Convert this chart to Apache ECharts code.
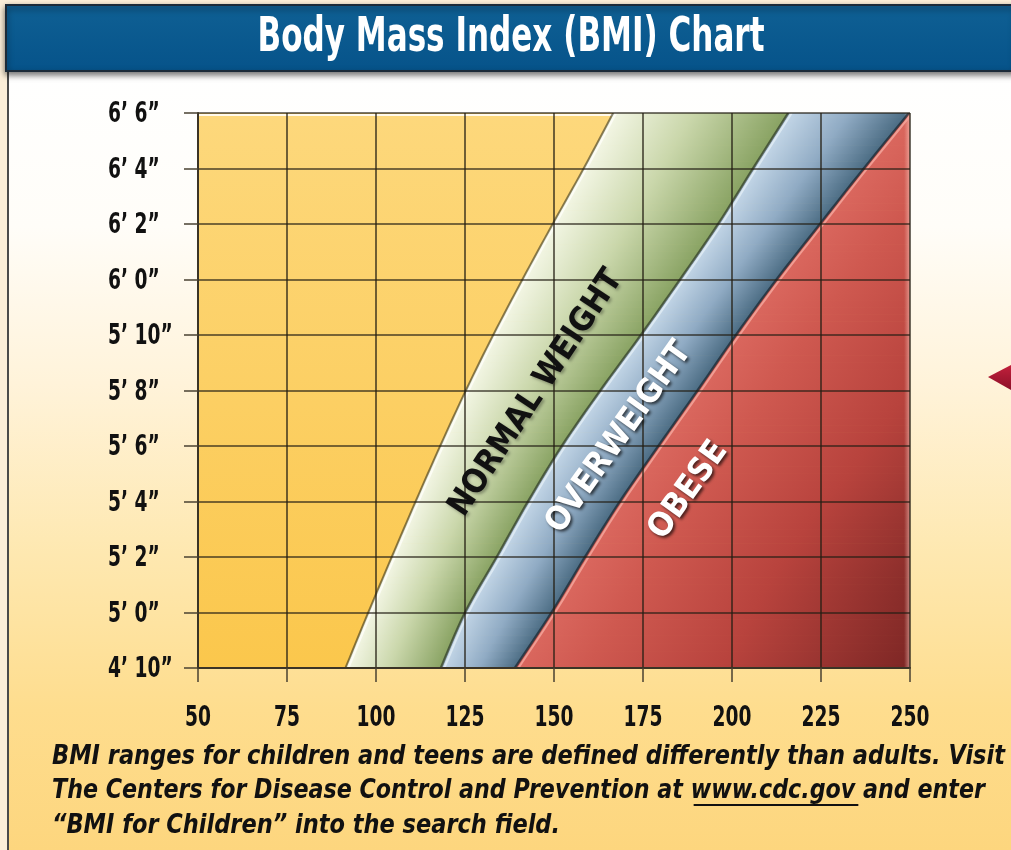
<!DOCTYPE html>
<html><head><meta charset="utf-8">
<script src="https://cdn.jsdelivr.net/npm/echarts@6/dist/echarts.min.js"></script>
<style>html,body{margin:0;padding:0;background:#fbeed8;overflow:hidden}#c{width:1011px;height:850px}</style>
</head><body><div id="c"></div>
<script>
// ---- data ----
const heightTicks = [58, 60, 62, 64, 66, 68, 70, 72, 74, 76, 78];           // inches
const heightLabels = ['4’ 10”', '5’ 0”', '5’ 2”', '5’ 4”', '5’ 6”', '5’ 8”', '5’ 10”', '6’ 0”', '6’ 2”', '6’ 4”', '6’ 6”'];
const weightTicks = [50, 75, 100, 125, 150, 175, 200, 225, 250];            // pounds
const weightLabels = ['50', '75', '100', '125', '150', '175', '200', '225', '250'];
// weight (lb) where each category starts, at each height tick
const normalStart = [91.7, 98.1, 104.7, 111.4, 118.3, 125.5, 133.2, 141.4, 149.9, 158.6, 166.9];
const overweightStart = [118.5, 125.3, 134.2, 143.0, 152.5, 163.3, 174.7, 185.7, 196.4, 206.2, 216.1];
const obeseStart = [139.3, 149.6, 159.0, 168.8, 179.6, 190.6, 201.4, 212.8, 225.0, 237.3, 250.0];
const categoryNames = ['NORMAL WEIGHT', 'OVERWEIGHT', 'OBESE'];
const titleText = 'Body Mass Index (BMI) Chart';
const noteLines = [
  'BMI ranges for children and teens are defined differently than adults. Visit',
  'The Centers for Disease Control and Prevention at www.cdc.gov and enter',
  '“BMI for Children” into the search field.'
];
const linkText = 'www.cdc.gov';

// ---- style / layout ----
const F = "'DejaVu Sans Condensed','Liberation Sans Narrow','Liberation Sans',sans-serif";
const W_MIN = 50, W_MAX = 250, H_MIN = 58, H_MAX = 78;
const labelPlaces = [ // weight, height, angleDeg, fill, fontSize, target length px
  [145.0, 67.9, 56.5, '#111111', 33, 288],
  [168.3, 66.3, 54.5, '#ffffff', 33, 226],
  [187.8, 64.4, 54.5, '#ffffff', 33, 112]
];
const noteWidths = [953, 933, 508];
const noteY = [757, 791, 826];
const NOTE_X = 52;

const measureCtx = document.createElement('canvas').getContext('2d');
function textW(txt, font) { measureCtx.font = font; return measureCtx.measureText(txt).width; }

const chart = echarts.init(document.getElementById('c'), null, {renderer: 'canvas'});

function spline(P, n) {
  const out = [];
  for (let i = 0; i < P.length - 1; i++) {
    const p0 = P[i - 1] || P[i], p1 = P[i], p2 = P[i + 1], p3 = P[i + 2] || P[i + 1];
    for (let k = 0; k < n; k++) {
      const t = k / n, t2 = t * t, t3 = t2 * t;
      out.push([0, 1].map(j => 0.5 * (2 * p1[j] + (-p0[j] + p2[j]) * t +
        (2 * p0[j] - 5 * p1[j] + 4 * p2[j] - p3[j]) * t2 + (-p0[j] + 3 * p1[j] - 3 * p2[j] + p3[j]) * t3)));
    }
  }
  out.push(P[P.length - 1].slice());
  return out;
}
const SUB = 8;
function curve(api, A) { return spline(heightTicks.map((h, i) => api.coord([A[i], h])), SUB); }

function strip(LA, LB, stops, fixedDist) {
  const out = [];
  for (let i = 0; i < LA.length - 1; i++) {
    const a0 = LA[i], a1 = LA[i + 1], b0 = LB[i], b1 = LB[i + 1];
    const dx = a1[0] - a0[0], dy = a1[1] - a0[1], L = Math.hypot(dx, dy) || 1;
    const nx = -dy / L, ny = dx / L;
    const ma = [(a0[0] + a1[0]) / 2, (a0[1] + a1[1]) / 2];
    const mb = [(b0[0] + b1[0]) / 2, (b0[1] + b1[1]) / 2];
    const d = fixedDist || ((mb[0] - ma[0]) * nx + (mb[1] - ma[1]) * ny);
    const g = {type: 'linear', x: ma[0], y: ma[1], x2: ma[0] + nx * d, y2: ma[1] + ny * d, global: true, colorStops: stops};
    out.push({type: 'polygon', shape: {points: [a0, a1, b1, b0]}, style: {fill: g, stroke: g, lineWidth: 1}});
  }
  return out;
}
function edge(L, dxOff, color, width) {
  return {type: 'polyline', shape: {points: L.map(p => [p[0] + dxOff, p[1]])}, style: {stroke: color, lineWidth: width, fill: null}};
}

function renderBands(params, api) {
  const tl = api.coord([W_MIN, H_MAX]), br = api.coord([W_MAX, H_MIN]);
  const LN = curve(api, normalStart), LO = curve(api, overweightStart), LB = curve(api, obeseStart);
  const LR = LB.map(p => [br[0], p[1]]);
  const children = [];
  children.push({type: 'rect', shape: {x: tl[0], y: tl[1], width: br[0] - tl[0], height: br[1] - tl[1]},
    style: {fill: {type: 'linear', x: 0, y: 0, x2: 0, y2: 1, colorStops: [
      {offset: 0, color: '#fdd87c'}, {offset: 1, color: '#fbc74c'}]}}});
  children.push({type: 'line', shape: {x1: tl[0], y1: tl[1] + 2, x2: LN[LN.length - 1][0], y2: tl[1] + 2},
    style: {stroke: 'rgba(255,255,255,0.85)', lineWidth: 2}});
  children.push(...strip(LN, LO, [
    {offset: 0, color: '#f3f6e4'}, {offset: 0.45, color: '#cad7ab'}, {offset: 1, color: '#88a262'}]));
  children.push(...strip(LO, LB, [
    {offset: 0, color: '#c3d6e7'}, {offset: 0.5, color: '#90abc4'}, {offset: 1, color: '#4a6b82'}]));
  children.push(...strip(LB, LR, [
    {offset: 0, color: '#da675e'}, {offset: 0.15, color: '#cf5950'}, {offset: 0.45, color: '#b8433d'},
    {offset: 0.75, color: '#8c2e2b'}, {offset: 1, color: '#6a1c1c'}], 380));
  children.push({type: 'rect', shape: {x: br[0] - 6, y: tl[1], width: 6, height: br[1] - tl[1]},
    style: {fill: {type: 'linear', x: 0, y: 0, x2: 1, y2: 0, colorStops: [
      {offset: 0, color: 'rgba(255,200,190,0)'}, {offset: 1, color: 'rgba(255,210,200,0.55)'}]}}});
  children.push(edge(LN, -1, 'rgba(40,40,25,0.55)', 2));
  children.push(edge(LN, 2, 'rgba(255,255,250,0.8)', 2));
  children.push(edge(LO, -1, 'rgba(30,40,30,0.6)', 2.5));
  children.push(edge(LO, 2.5, 'rgba(225,236,245,0.85)', 2));
  children.push(edge(LB, -1, 'rgba(20,30,40,0.65)', 2.5));
  children.push(edge(LB, 2.5, 'rgba(245,170,160,0.8)', 2));
  return {type: 'group', children};
}

function renderLabels(params, api) {
  const children = labelPlaces.map((p, i) => {
    const c = api.coord([p[0], p[1]]);
    const white = p[3] === '#ffffff';
    const font = 'bold ' + p[4] + 'px ' + F;
    const s = p[5] / textW(categoryNames[i], font);
    return {type: 'text', x: c[0], y: c[1], rotation: p[2] * Math.PI / 180, scaleX: s, scaleY: 1,
      style: {text: categoryNames[i], fill: p[3], fontSize: p[4], fontWeight: 'bold', fontFamily: F,
        textAlign: 'center', textVerticalAlign: 'middle', align: 'center', verticalAlign: 'middle',
        textShadowColor: white ? 'rgba(0,0,0,0.65)' : 'rgba(0,0,0,0.3)', textShadowBlur: 3,
        textShadowOffsetX: 2, textShadowOffsetY: 2}};
  });
  return {type: 'group', children};
}

const TICK_FONT = 28, TICK_SCALE = 0.74;
function renderTickLabels(params, api) {
  const children = [];
  weightTicks.forEach((w, i) => {
    const c = api.coord([w, H_MIN]);
    children.push({type: 'text', x: c[0], y: c[1] + 51, scaleX: TICK_SCALE,
      style: {text: weightLabels[i], fill: '#111', fontSize: TICK_FONT, fontWeight: 'bold', fontFamily: F,
        textAlign: 'center', textVerticalAlign: 'middle', align: 'center', verticalAlign: 'middle'}});
  });
  heightTicks.forEach((h, i) => {
    const c = api.coord([W_MIN, h]);
    children.push({type: 'text', x: c[0] - 90, y: c[1] + 2, scaleX: TICK_SCALE,
      style: {text: heightLabels[i], fill: '#111', fontSize: TICK_FONT, fontWeight: 'bold', fontFamily: F,
        textAlign: 'left', textVerticalAlign: 'middle', align: 'left', verticalAlign: 'middle'}});
  });
  return {type: 'group', children};
}

const noteFont = 'italic bold 27px ' + F;
const noteScale = noteLines.map((t, i) => noteWidths[i] / textW(t, noteFont));
const titleFont = 'bold 48px ' + F;
const titleScale = 507 / textW(titleText, titleFont);
const pre = noteLines[1].slice(0, noteLines[1].indexOf(linkText));
const ulX1 = NOTE_X + textW(pre, noteFont) * noteScale[1] + 3;
const ulX2 = ulX1 + textW(linkText, noteFont) * noteScale[1];

const axisCommon = {
  z: 5,
  axisLine: {show: true, onZero: false, lineStyle: {color: '#3b3426', width: 2}},
  axisTick: {show: true, length: 14, lineStyle: {color: '#4a4232', width: 1.5}},
  splitLine: {show: true, lineStyle: {color: 'rgba(35,30,20,0.82)', width: 1.6}},
  axisLabel: {show: false}
};
const option = {
  animation: false,
  backgroundColor: 'transparent',
  grid: {left: 198, right: 101, top: 113, bottom: 182, containLabel: false},
  xAxis: Object.assign({type: 'value', min: W_MIN, max: W_MAX, interval: 25}, axisCommon),
  yAxis: Object.assign({type: 'value', min: H_MIN, max: H_MAX, interval: 2}, axisCommon),
  graphic: [
    {type: 'rect', z: -20, shape: {x: 8, y: 70, width: 1003, height: 780},
      style: {fill: {type: 'linear', x: 0, y: 0, x2: 0, y2: 1, colorStops: [
        {offset: 0, color: '#ffffff'}, {offset: 0.2, color: '#fffdf8'}, {offset: 0.4, color: '#fff3da'},
        {offset: 0.62, color: '#fee8b0'}, {offset: 0.82, color: '#fedd8e'}, {offset: 1, color: '#fdd67e'}]}}},
    {type: 'line', z: -19, shape: {x1: 8, y1: 70, x2: 8, y2: 850}, style: {stroke: '#4a4a4a', lineWidth: 2}},
    {type: 'rect', z: -18, shape: {x: 6, y: 5, width: 1010, height: 66},
      style: {fill: {type: 'linear', x: 0, y: 0, x2: 0, y2: 1, colorStops: [
        {offset: 0, color: '#0f6094'}, {offset: 1, color: '#06538a'}]},
        stroke: '#1b2a38', lineWidth: 2, shadowColor: 'rgba(0,0,0,0.55)', shadowBlur: 6, shadowOffsetY: 3}},
    {type: 'text', z: 20, x: 511, y: 39, scaleX: titleScale, style: {text: titleText, fill: '#ffffff', fontSize: 48,
      fontWeight: 'bold', fontFamily: F, textAlign: 'center', textVerticalAlign: 'middle', align: 'center', verticalAlign: 'middle'}},
    {type: 'polygon', z: 20, shape: {points: [[988, 377], [1011, 365], [1011, 390]]},
      style: {fill: {type: 'linear', x: 0, y: 0, x2: 0, y2: 1, colorStops: [
        {offset: 0, color: '#c2203c'}, {offset: 1, color: '#8c1028'}]}}}
  ].concat(noteLines.map((t, i) => ({type: 'text', z: 20, x: NOTE_X, y: noteY[i], scaleX: noteScale[i],
      style: {text: t, fill: '#111', fontSize: 27, fontWeight: 'bold', fontStyle: 'italic', fontFamily: F,
        textVerticalAlign: 'middle', verticalAlign: 'middle'}})))
   .concat([{type: 'line', z: 20, shape: {x1: ulX1, y1: 805, x2: ulX2, y2: 805}, style: {stroke: '#111', lineWidth: 2}}]),
  series: [
    {type: 'custom', z: 1, clip: true, silent: true, data: [[W_MIN, H_MIN]], renderItem: renderBands},
    {type: 'custom', z: 10, silent: true, data: [[W_MIN, H_MIN]], renderItem: renderLabels},
    {type: 'custom', z: 10, silent: true, clip: false, data: [[W_MIN, H_MIN]], renderItem: renderTickLabels}
  ]
};
chart.setOption(option);
</script>
</body></html>
